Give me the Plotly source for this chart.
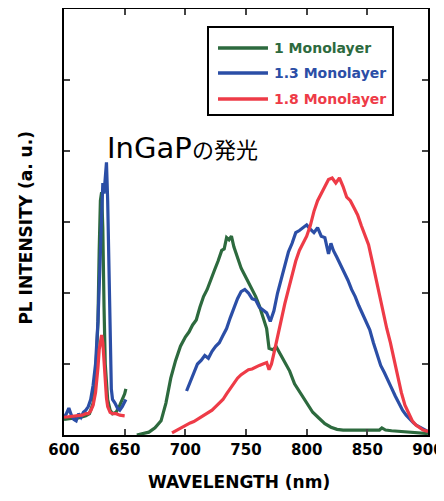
import plotly.graph_objects as go

# ---- data ----
g_wl_left = [600,603,606,609,612,615,618,621,624,626,628,629,630,631,632,633,634,636,638,640,643,646,648,650,651]
g_left = [0.22,0.23,0.23,0.24,0.24,0.25,0.27,0.3,0.45,0.8,1.6,2.6,3.3,3.42,2.9,1.8,1.0,0.5,0.35,0.3,0.32,0.42,0.5,0.58,0.65]
g_wl_main = [660,665,670,675,680,684,688,692,696,700,703,706,709,712,715,718,721,724,727,730,732,734,736,738,740,743,746,749,752,755,758,761,764,767,769,772,775,778,782,786,790,795,800,805,810,815,820,825,830,840,850,860,862,865,870,880,890,900]
g_main = [0.0,0.02,0.04,0.1,0.2,0.45,0.8,1.05,1.25,1.38,1.45,1.55,1.62,1.8,1.95,2.05,2.2,2.32,2.45,2.6,2.62,2.78,2.75,2.8,2.65,2.5,2.35,2.25,2.15,2.05,1.95,1.82,1.66,1.5,1.22,1.2,1.24,1.15,1.02,0.9,0.72,0.58,0.45,0.32,0.24,0.16,0.11,0.08,0.07,0.07,0.07,0.07,0.1,0.07,0.06,0.05,0.03,0.02]

b_wl_left = [600,602,604,606,608,610,612,614,616,618,620,622,624,626,628,630,631,632,633,634,635,636,637,638,639,640,642,644,646,648,650,651]
b_left = [0.25,0.3,0.38,0.28,0.22,0.2,0.3,0.25,0.32,0.35,0.4,0.5,0.7,1.0,1.6,2.6,3.3,3.55,3.4,3.6,3.84,3.3,2.2,1.1,0.65,0.5,0.45,0.38,0.35,0.4,0.48,0.5]
b_wl_main = [701,704,707,710,713,716,719,722,725,728,731,734,737,740,743,746,749,752,755,758,761,764,767,770,773,776,779,782,785,788,791,794,797,800,803,806,809,812,815,818,820,822,825,828,831,834,837,840,843,846,849,852,855,858,861,864,867,870,873,876,879,882,885,888,891,894,897,900]
b_main = [0.62,0.75,0.9,1.0,1.05,1.12,1.08,1.18,1.25,1.3,1.4,1.5,1.65,1.8,1.92,2.02,2.05,2.0,1.92,1.9,1.8,1.76,1.72,1.6,1.75,2.0,2.2,2.42,2.58,2.7,2.85,2.88,2.92,2.96,2.9,2.85,2.92,2.8,2.78,2.55,2.7,2.6,2.5,2.4,2.3,2.18,2.05,1.95,1.82,1.7,1.6,1.48,1.3,1.15,0.98,0.88,0.78,0.66,0.55,0.45,0.35,0.28,0.22,0.17,0.13,0.1,0.08,0.05]

r_wl_left = [600,605,610,615,618,620,622,624,626,627,628,629,630,631,632,633,634,635,636,638,640,643,646,650]
r_left = [0.25,0.26,0.27,0.28,0.3,0.3,0.34,0.42,0.6,0.75,0.95,1.2,1.35,1.41,1.3,1.0,0.7,0.52,0.4,0.32,0.3,0.3,0.28,0.27]
r_wl_main = [689,692,695,698,701,704,707,710,713,716,719,722,725,728,731,734,737,740,743,746,749,752,755,758,761,764,767,769,771,773,776,779,782,785,788,791,794,797,800,803,806,809,812,815,818,821,824,827,830,833,836,839,842,845,848,851,854,857,860,863,866,869,872,875,878,881,884,887,890,893,896,900]
r_main = [0.03,0.06,0.09,0.11,0.14,0.17,0.19,0.22,0.25,0.28,0.31,0.35,0.4,0.45,0.5,0.58,0.66,0.73,0.8,0.85,0.88,0.92,0.93,0.96,0.98,1.0,1.02,0.92,1.0,1.15,1.4,1.62,1.85,2.05,2.25,2.45,2.6,2.7,2.8,2.95,3.15,3.3,3.4,3.5,3.6,3.62,3.55,3.62,3.5,3.35,3.3,3.2,3.1,2.95,2.8,2.68,2.45,2.2,2.0,1.75,1.5,1.3,1.05,0.8,0.6,0.42,0.3,0.2,0.14,0.1,0.07,0.05]

x_ticks = [600, 650, 700, 750, 800, 850, 900]
series_names = ["1 Monolayer", "1.3 Monolayer", "1.8 Monolayer"]
colors = ["#2d6a3e", "#2b4ea6", "#ee3b47"]

BOLD = "DejaVu Sans"

fig = go.Figure()
data = [(g_wl_left, g_left, g_wl_main, g_main),
        (b_wl_left, b_left, b_wl_main, b_main),
        (r_wl_left, r_left, r_wl_main, r_main)]
for (wl1, v1, wl2, v2), name, c in zip(data, series_names, colors):
    fig.add_trace(go.Scatter(
        x=wl1 + [None] + wl2, y=v1 + [None] + v2, mode="lines",
        connectgaps=False, name=name, showlegend=False,
        line=dict(color=c, width=3.2),
    ))

# manual legend (box, sample lines, labels)
shapes = [dict(type="rect", xref="paper", yref="paper", x0=0.3956, x1=0.9038,
               y0=0.7512, y1=0.9577, line=dict(color="black", width=2),
               fillcolor="white", layer="above")]
row_y = [0.9085, 0.8498, 0.7887]
annotations = []
for name, c, yy in zip(series_names, colors, row_y):
    shapes.append(dict(type="line", xref="paper", yref="paper", x0=0.4231, x1=0.5604,
                       y0=yy, y1=yy, line=dict(color=c, width=3.5), layer="above"))
    annotations.append(dict(xref="paper", yref="paper", x=0.5714, y=yy, text=f"<b>{name}</b>",
                            showarrow=False, xanchor="left", yanchor="middle",
                            font=dict(family=BOLD, size=14, color=c)))

# InGaP annotation
annotations.append(dict(x=633.5, y=4.04, xref="x", yref="y", text="InGaP",
                        showarrow=False, xanchor="left", yanchor="middle",
                        font=dict(family="DejaVu Sans", size=29, color="black")))
annotations.append(dict(x=703.5, y=4.04, xref="x", yref="y", text="の発光",
                        showarrow=False, xanchor="left", yanchor="middle",
                        font=dict(family="Noto Sans CJK JP", size=22, color="black")))

# axis titles
annotations.append(dict(xref="paper", yref="paper", x=0.481, y=-0.110,
                        text="<b>WAVELENGTH (nm)</b>", showarrow=False,
                        xanchor="center", yanchor="middle",
                        font=dict(family=BOLD, size=17, color="black")))
annotations.append(dict(xref="paper", yref="paper", x=-0.107, y=0.487,
                        text="<b>PL INTENSITY (a. u.)</b>", showarrow=False,
                        textangle=-90, xanchor="center", yanchor="middle",
                        font=dict(family=BOLD, size=17, color="black")))

# page body has an 8px margin, so the figure is sized/offset to compensate
fig.update_layout(
    width=436, height=493,
    margin=dict(l=56, r=16, t=1, b=66),
    paper_bgcolor="white", plot_bgcolor="white",
    font=dict(family=BOLD, color="black"),
    showlegend=False,
    shapes=shapes, annotations=annotations,
    xaxis=dict(range=[600, 900], tickvals=x_ticks, ticks="inside", ticklen=6,
               tickwidth=1.5, showline=True, linewidth=1.5, linecolor="black",
               mirror="ticks", showgrid=False, zeroline=False, automargin=False,
               tickfont=dict(family=BOLD, size=15, weight="bold")),
    yaxis=dict(range=[0, 6], dtick=1, ticks="inside", ticklen=6, tickwidth=1.5,
               showline=True, linewidth=1.5, linecolor="black", mirror="ticks",
               showgrid=False, zeroline=False, showticklabels=False, automargin=False),
)

fig.write_html("out.html")
